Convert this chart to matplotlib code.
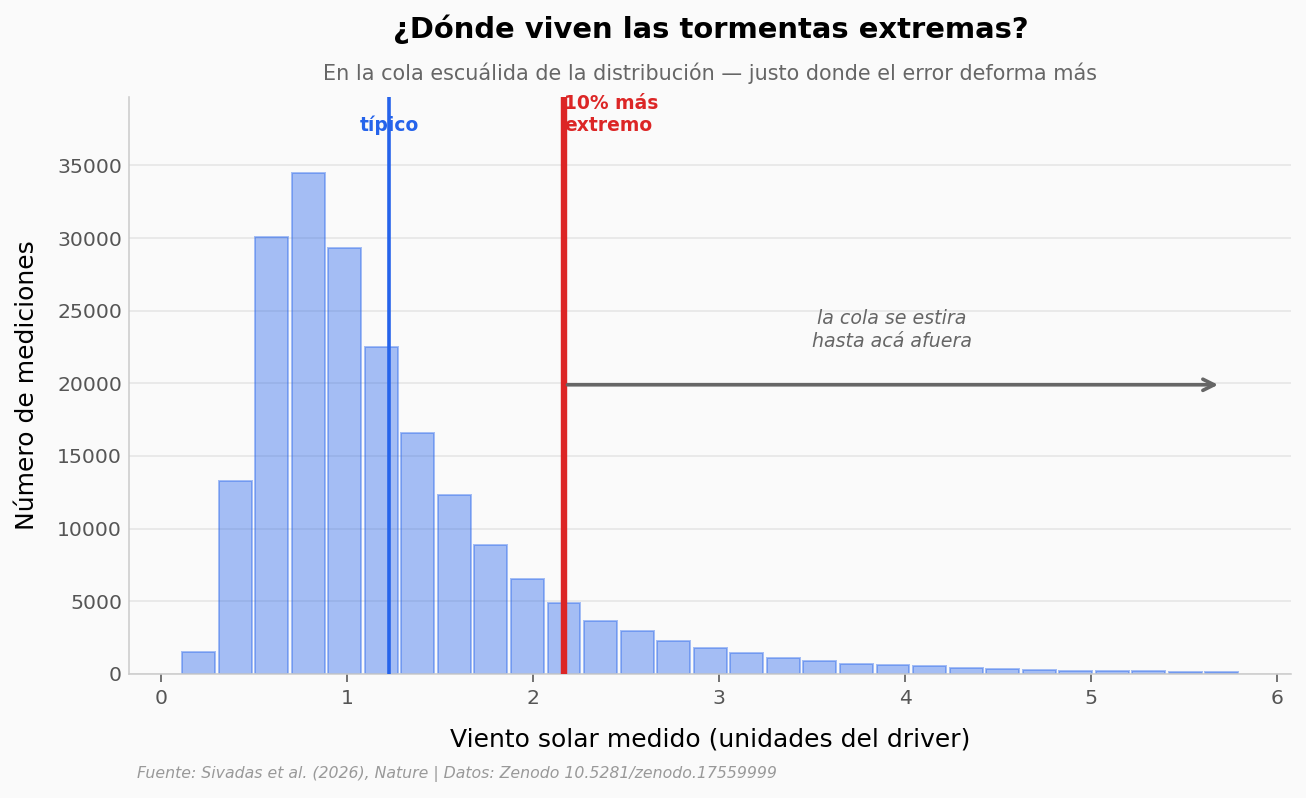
import numpy as np
import matplotlib.pyplot as plt

# histogram of measured solar wind (bin centers, counts)
bin_width = 0.1965
bin_centers = np.round(np.arange(29) * bin_width + 0.2016, 4)
counts = [1500, 13300, 30100, 34500, 29300, 22500, 16600, 12300, 8900, 6550,
          4900, 3670, 2940, 2300, 1820, 1470, 1130, 920, 720, 650,
          580, 440, 370, 300, 230, 230, 230, 165, 165]

typical_x = 1.226     # typical value
extreme_x = 2.167     # 90th percentile threshold
arrow_start = 2.185
tail_end = 5.683
x_ticks = [0, 1, 2, 3, 4, 5, 6]
y_ticks = [0, 5000, 10000, 15000, 20000, 25000, 30000, 35000]

fig = plt.figure(figsize=(1306 / 144, 798 / 144), dpi=144, facecolor='#fafafa')
ax = fig.add_axes([0.0988, 0.1554, 0.8897, 0.723])
ax.set_facecolor('#fafafa')

ax.bar(bin_centers, counts, width=bin_width * 0.9, color='#2563eb', alpha=0.4,
       edgecolor='#2563eb', linewidth=1.0, zorder=2)

ax.axvline(typical_x, color='#2563eb', lw=1.8, zorder=3)
ax.axvline(extreme_x, color='#dc2626', lw=3.2, zorder=3)

ax.text(typical_x, 37100, 'típico', color='#2563eb', fontsize=9.4, weight='bold',
        ha='center', va='bottom')
ax.text(extreme_x, 37100, '10% más\nextremo', color='#dc2626', fontsize=9.4,
        weight='bold', ha='left', va='bottom')

ax.annotate('', xy=(tail_end, 19900), xytext=(arrow_start, 19900),
            arrowprops=dict(arrowstyle='->', color='#666666', lw=1.8,
                            mutation_scale=14, shrinkA=0, shrinkB=0))
ax.text(3.93, 23650, 'la cola se estira\nhasta acá afuera', color='#666666',
        fontsize=9.5, style='italic', ha='center', va='center', linespacing=1.25)

ax.set_xlim(-0.172, 6.075)
ax.set_ylim(0, 39700)
ax.set_xticks(x_ticks)
ax.set_yticks(y_ticks)
ax.tick_params(axis='both', labelsize=10.2, colors='#555555')
ax.tick_params(axis='y', length=0)
ax.tick_params(axis='x', length=4, color='#555555')
ax.grid(axis='y', color='#e6e6e6', lw=0.8, zorder=0)
ax.set_axisbelow(True)
for s in ['top', 'right']:
    ax.spines[s].set_visible(False)
for s in ['left', 'bottom']:
    ax.spines[s].set_color('#cccccc')

ax.set_xlabel('Viento solar medido (unidades del driver)', fontsize=12.5, labelpad=10)
ax.set_ylabel('Número de mediciones', fontsize=12.5, labelpad=9)

fig.text(0.544, 0.9637, '¿Dónde viven las tormentas extremas?', fontsize=14.5,
         weight='bold', ha='center', va='center')
fig.text(0.544, 0.9085, 'En la cola escuálida de la distribución — justo donde el error deforma más',
         fontsize=10.4, color='#666666', ha='center', va='center')
fig.text(0.105, 0.030, 'Fuente: Sivadas et al. (2026), Nature | Datos: Zenodo 10.5281/zenodo.17559999',
         fontsize=7.85, style='italic', color='#999999', ha='left', va='center')

fig.savefig('out.png', dpi=144, facecolor='#fafafa')
